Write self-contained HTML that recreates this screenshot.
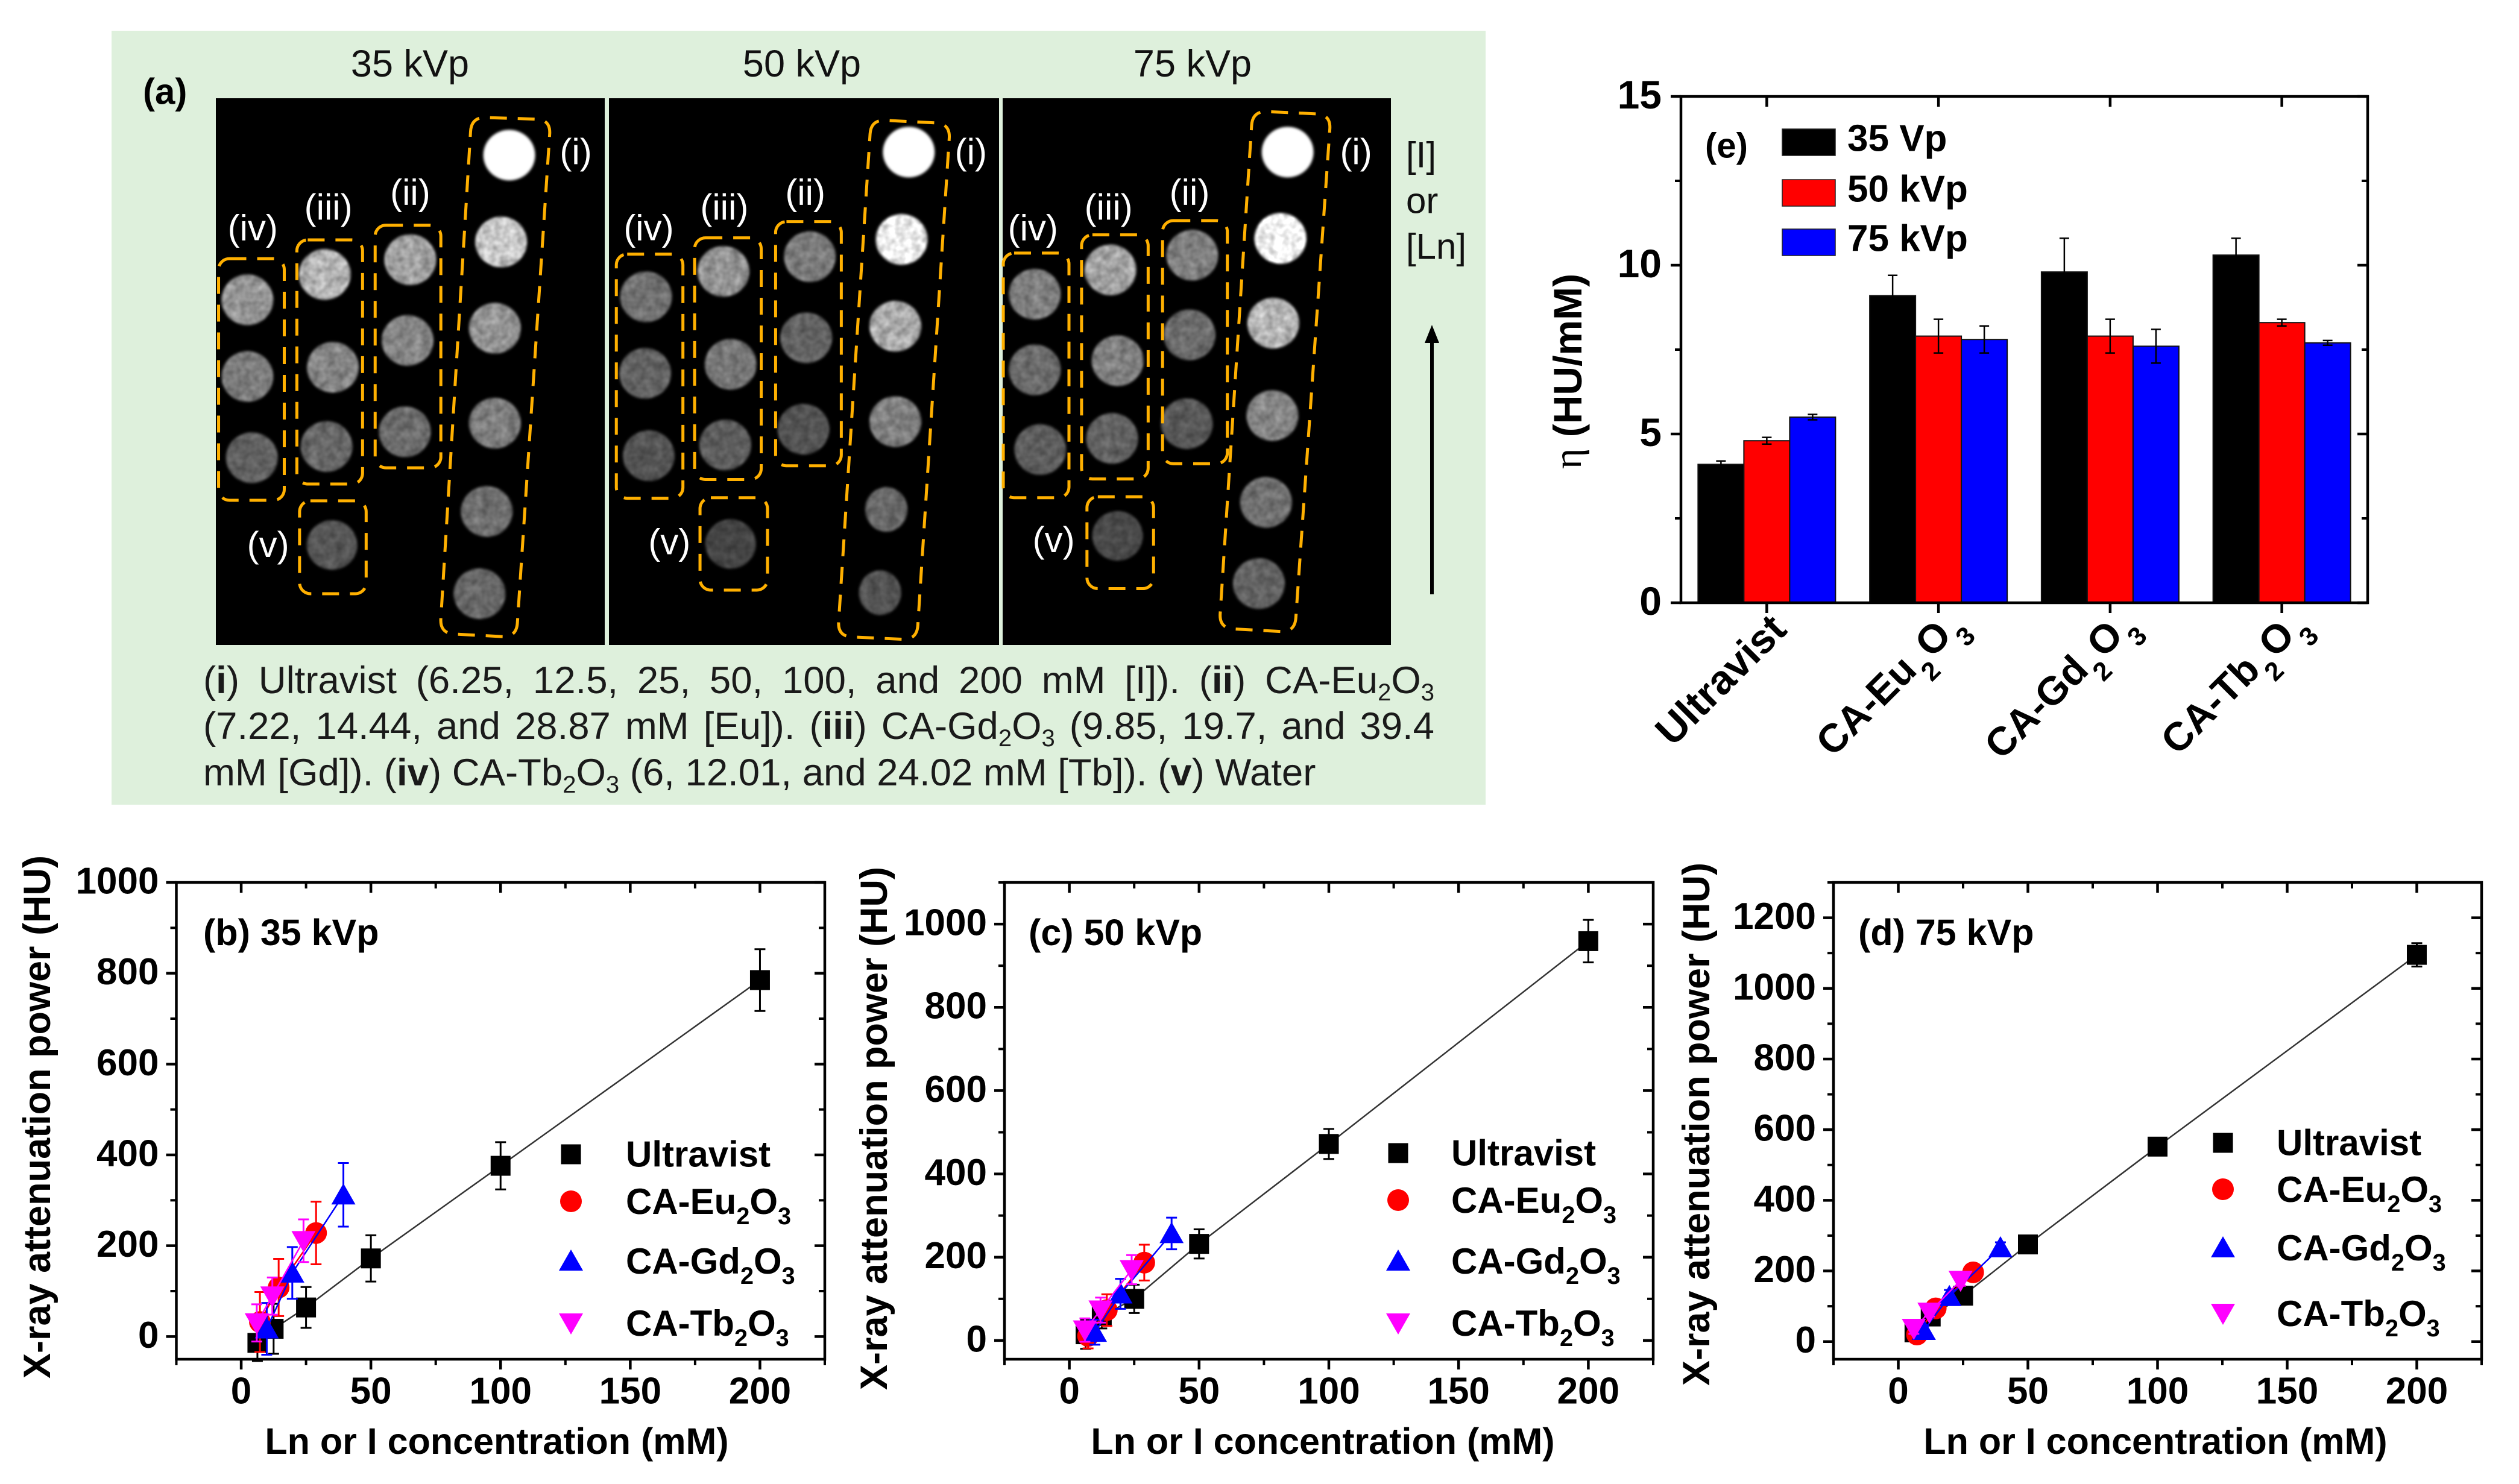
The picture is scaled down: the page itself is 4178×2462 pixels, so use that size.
<!DOCTYPE html>
<html lang="en">
<head>
<meta charset="utf-8">
<title>X-ray attenuation figure</title>
<style>
html,body{margin:0;padding:0;background:#fff;}
#figure{position:absolute;left:0;top:0;width:4178px;height:2462px;overflow:hidden;font-family:"Liberation Sans",sans-serif;}
svg{position:absolute;left:0;top:0;}
.caption{position:absolute;left:337px;width:2042px;font-size:63.5px;line-height:76px;color:#1a1a1a;white-space:nowrap;text-align:justify;text-align-last:justify;}
.caption.last{text-align-last:left;}
.caption sub{font-size:40px;line-height:0;vertical-align:-12px;}
</style>
</head>
<body>
<div id="figure">
<svg id="canvas" width="4178" height="2462" viewBox="0 0 4178 2462" xmlns="http://www.w3.org/2000/svg">
<defs>
<filter id="tex" filterUnits="userSpaceOnUse" x="340" y="150" width="2000" height="940" color-interpolation-filters="sRGB">
<feGaussianBlur in="SourceGraphic" stdDeviation="2" result="soft"/>
<feTurbulence type="fractalNoise" baseFrequency="0.07" numOctaves="2" seed="4" result="n"/>
<feColorMatrix in="n" type="matrix" values="1 0 0 0 0 1 0 0 0 0 1 0 0 0 0 0 0 0 0 1" result="g"/>
<feComposite in="soft" in2="g" operator="arithmetic" k1="0.6" k2="0.68" k3="0" k4="0"/>
</filter>
<filter id="soft" color-interpolation-filters="sRGB"><feGaussianBlur stdDeviation="2"/></filter>
</defs>
<rect x="185" y="51" width="2279" height="1284" fill="#def0dc"/>
<g id="panelA"></g>
<g id="panelB"></g>
<g id="panelC"></g>
<g id="panelD"></g>
<g id="panelE"></g>
</svg>
<div class="caption" style="top:1091px">(<b>i</b>) Ultravist (6.25, 12.5, 25, 50, 100, and 200 mM [I]). (<b>ii</b>) CA-Eu<sub>2</sub>O<sub>3</sub></div>
<div class="caption" style="top:1167px">(7.22, 14.44, and 28.87 mM [Eu]). (<b>iii</b>) CA-Gd<sub>2</sub>O<sub>3</sub> (9.85, 19.7, and 39.4</div>
<div class="caption last" style="top:1244px">mM [Gd]). (<b>iv</b>) CA-Tb<sub>2</sub>O<sub>3</sub> (6, 12.01, and 24.02 mM [Tb]). (<b>v</b>) Water</div>
</div>
<script>
// ---------- chart data ----------
const ultravistConc = [6.25, 12.5, 25, 50, 100, 200];
const euConc = [7.22, 14.44, 28.87];
const gdConc = [9.85, 19.7, 39.4];
const tbConc = [6, 12.01, 24.02];

const ultravist35 = [-14, 17, 64, 172, 376, 785];
const ultravist35Err = [40, 55, 45, 51, 52, 68];
const eu35 = [32, 108, 228];
const eu35Err = [66, 63, 69];
const gd35 = [17, 140, 312];
const gd35Err = [57, 57, 70];
const tb35 = [30, 89, 211];
const tb35Err = [41, 41, 47];

const ultravist50 = [15, 59, 100, 232, 472, 959];
const ultravist50Err = [35, 30, 34, 35, 36, 51];
const eu50 = [11, 73, 187];
const eu50Err = [30, 38, 43];
const gd50 = [20, 112, 257];
const gd50Err = [30, 36, 38];
const tb50 = [25, 73, 170];
const tb50Err = [28, 30, 35];

const ultravist75 = [26, 71, 130, 275, 552, 1095];
const ultravist75Err = [8, 10, 12, 15, 20, 33];
const eu75 = [20, 94, 196];
const eu75Err = [10, 15, 12];
const gd75 = [32, 128, 266];
const gd75Err = [12, 18, 15];
const tb75 = [37, 83, 173];
const tb75Err = [15, 12, 15];

const xMajorTicks = [0, 50, 100, 150, 200];
const xMinorTicks = [-25, 25, 75, 125, 175, 225];
const yMajorB = [0, 200, 400, 600, 800, 1000];
const yMinorB = [100, 300, 500, 700, 900];
const yMajorC = [0, 200, 400, 600, 800, 1000];
const yMinorC = [100, 300, 500, 700, 900, 1100];
const yMajorD = [0, 200, 400, 600, 800, 1000, 1200];
const yMinorD = [100, 300, 500, 700, 900, 1100, 1300];

const barCategories = ["Ultravist", "CA-Eu", "CA-Gd", "CA-Tb"];
const eta35 = [4.1, 9.1, 9.8, 10.3];
const eta35Err = [0.1, 0.6, 1.0, 0.5];
const eta50 = [4.8, 7.9, 7.9, 8.3];
const eta50Err = [0.1, 0.5, 0.5, 0.1];
const eta75 = [5.5, 7.8, 7.6, 7.7];
const eta75Err = [0.08, 0.4, 0.5, 0.07];
const etaMajorTicks = [0, 5, 10, 15];
const etaMinorTicks = [2.5, 7.5, 12.5];
const barLegendLabels = ["35 Vp", "50 kVp", "75 kVp"];

// ---------- helpers ----------
const NS = "http://www.w3.org/2000/svg";
function mk(tag, attrs, parent) {
  const el = document.createElementNS(NS, tag);
  for (const k in attrs) el.setAttribute(k, attrs[k]);
  parent.appendChild(el);
  return el;
}
function lin(d0, d1, r0, r1) {
  return v => r0 + (v - d0) * (r1 - r0) / (d1 - d0);
}
function chemText(el, name, size, gap) {
  const drop = size * 0.42;
  const sub = size * 0.66;
  mk("tspan", {}, el).textContent = name;
  const a = mk("tspan", { dy: drop, dx: gap, "font-size": sub }, el);
  a.textContent = "2";
  const b = mk("tspan", { dy: -drop, dx: gap }, el);
  b.textContent = "O";
  const c = mk("tspan", { dy: drop, dx: gap, "font-size": sub }, el);
  c.textContent = "3";
}
const BOLD = { "font-family": '"Liberation Sans",sans-serif', "font-weight": "bold", fill: "#000" };
function boldText(parent, x, y, size, anchor, str) {
  const t = mk("text", Object.assign({ x: x, y: y, "font-size": size, "text-anchor": anchor, "dominant-baseline": "central" }, BOLD), parent);
  t.textContent = str;
  return t;
}
function seg(parent, x1, y1, x2, y2, color, w) {
  return mk("line", { x1: x1, y1: y1, x2: x2, y2: y2, stroke: color, "stroke-width": w }, parent);
}

function marker(parent, shape, x, y, color) {
  let m;
  if (shape === "square") {
    m = mk("rect", { x: x - 16.5, y: y - 16.5, width: 33, height: 33, fill: color }, parent);
  } else if (shape === "circle") {
    m = mk("circle", { cx: x, cy: y, r: 18, fill: color }, parent);
  } else if (shape === "up") {
    m = mk("polygon", { points: (x - 20) + "," + (y + 16) + " " + (x + 20) + "," + (y + 16) + " " + x + "," + (y - 19), fill: color }, parent);
  } else {
    m = mk("polygon", { points: (x - 20) + "," + (y - 16) + " " + (x + 20) + "," + (y - 16) + " " + x + "," + (y + 19), fill: color }, parent);
  }
  return m;
}

function drawFrame(g, f, sx, sy, xMajor, xMinor, yMajor, yMinor) {
  const frame = mk("rect", { x: f.left, y: f.top, width: f.right - f.left, height: f.bottom - f.top, fill: "none", stroke: "#000", "stroke-width": 4.5 }, g);
  
  
  yMajor.forEach(v => {
    const t1 = seg(g, f.left - 17, sy(v), f.left, sy(v), "#000", 4.5);
    
    
    const t2 = seg(g, f.right - 17, sy(v), f.right, sy(v), "#000", 4.5);
    
    
  });
  yMinor.forEach(v => {
    const t1 = seg(g, f.left - 10, sy(v), f.left, sy(v), "#000", 4);
    
    
    const t2 = seg(g, f.right - 10, sy(v), f.right, sy(v), "#000", 4);
    
    
  });
  xMajor.forEach(v => {
    const t1 = seg(g, sx(v), f.bottom, sx(v), f.bottom + 17, "#000", 4.5);
    
    
    const t2 = seg(g, sx(v), f.top, sx(v), f.top + 17, "#000", 4.5);
    
    
  });
  xMinor.forEach(v => {
    const t1 = seg(g, sx(v), f.bottom, sx(v), f.bottom + 10, "#000", 4);
    
    
    const t2 = seg(g, sx(v), f.top, sx(v), f.top + 10, "#000", 4);
    
    
  });
}

// ---------- scatter panels ----------
function drawScatter(opts) {
  const g = document.getElementById(opts.id);
  const f = opts.frame;
  const sx = lin(-25, 225, f.left, f.right);
  const sy = lin(opts.yMin, opts.yMax, f.bottom, f.top);
  drawFrame(g, f, sx, sy, xMajorTicks, xMinorTicks, opts.yMajor, opts.yMinor);

  opts.series.forEach(s => {
    const sg = mk("g", {}, g);
    
    
    const pts = s.x.map((v, i) => sx(v) + "," + sy(s.y[i])).join(" ");
    const line = mk("polyline", { points: pts, fill: "none", stroke: s.line, "stroke-width": 2.5 }, sg);
    
    
    s.x.forEach((v, i) => {
      const px = sx(v);
      const hi = sy(s.y[i] + s.err[i]);
      const lo = sy(s.y[i] - s.err[i]);
      const eb = mk("path", { d: "M" + (px - 9) + " " + hi + "H" + (px + 9) + "M" + px + " " + hi + "V" + lo + "M" + (px - 9) + " " + lo + "H" + (px + 9), fill: "none", stroke: s.color, "stroke-width": 3 }, sg);
      
      
      const m = marker(sg, s.shape, px, sy(s.y[i]), s.color);
      
      
    });
  });

  opts.yMajor.forEach(v => {
    const t = boldText(g, f.left - 29, sy(v) - 2, 62, "end", String(v));
    
    
  });
  xMajorTicks.forEach(v => {
    const t = boldText(g, sx(v), f.bottom + 53, 62, "middle", String(v));
    
    
  });
  const xt = boldText(g, opts.xTitleX, f.bottom + 136, 61, "middle", "Ln or I concentration (mM)");
  
  
  const yt = boldText(g, 0, 0, 63, "middle", "X-ray attenuation power (HU)");
  yt.setAttribute("transform", "translate(" + opts.yTitleX + " " + opts.yTitleY + ") rotate(-90)");
  
  
  const pl = boldText(g, opts.labelX, f.top + 83, 61, "start", opts.label);
  
  

  opts.series.forEach((s, i) => {
    const ly = opts.legendY[i];
    const lm = marker(g, s.shape, opts.legendMarkerX, ly, s.color);
    
    
    const lt = boldText(g, opts.legendTextX, ly, 60, "start", "");
    if (s.key === "ultravist") { lt.textContent = "Ultravist"; }
    else { chemText(lt, s.name, 60, 0); }
    
    
  });
}

function seriesSet(uy, ue, ey, ee, gy, ge, ty, te) {
  return [
    { key: "ultravist", name: "Ultravist", x: ultravistConc, y: uy, err: ue, color: "#000", line: "#333", shape: "square" },
    { key: "eu", name: "CA-Eu", x: euConc, y: ey, err: ee, color: "#ff0000", line: "#ff0000", shape: "circle" },
    { key: "gd", name: "CA-Gd", x: gdConc, y: gy, err: ge, color: "#0000ff", line: "#0000ff", shape: "up" },
    { key: "tb", name: "CA-Tb", x: tbConc, y: ty, err: te, color: "#ff00ff", line: "#ff00ff", shape: "down" }
  ];
}

drawScatter({
  id: "panelB", frame: { left: 292.5, right: 1368, top: 1464, bottom: 2255 },
  yMin: -50, yMax: 1000, yMajor: yMajorB, yMinor: yMinorB,
  series: seriesSet(ultravist35, ultravist35Err, eu35, eu35Err, gd35, gd35Err, tb35, tb35Err),
  xTitleX: 824, yTitleX: 62, yTitleY: 1853, label: "(b) 35 kVp", labelX: 337,
  legendMarkerX: 947, legendTextX: 1038, legendY: [1915, 1993, 2092, 2195]
});
drawScatter({
  id: "panelC", frame: { left: 1666, right: 2742, top: 1464, bottom: 2255 },
  yMin: -45, yMax: 1100, yMajor: yMajorC, yMinor: yMinorC,
  series: seriesSet(ultravist50, ultravist50Err, eu50, eu50Err, gd50, gd50Err, tb50, tb50Err),
  xTitleX: 2194, yTitleX: 1450, yTitleY: 1872, label: "(c) 50 kVp", labelX: 1706,
  legendMarkerX: 2319, legendTextX: 2407, legendY: [1913, 1991, 2092, 2195]
});
drawScatter({
  id: "panelD", frame: { left: 3041, right: 4116, top: 1464, bottom: 2255 },
  yMin: -50, yMax: 1300, yMajor: yMajorD, yMinor: yMinorD,
  series: seriesSet(ultravist75, ultravist75Err, eu75, eu75Err, gd75, gd75Err, tb75, tb75Err),
  xTitleX: 3575, yTitleX: 2814, yTitleY: 1865, label: "(d) 75 kVp", labelX: 3082,
  legendMarkerX: 3687, legendTextX: 3776, legendY: [1896, 1973, 2070, 2179]
});

// ---------- bar panel ----------
(function () {
  const g = document.getElementById("panelE");
  const f = { left: 2788, right: 3927, top: 160, bottom: 1000 };
  const sx = lin(0.5, 4.5, f.left, f.right);
  const sy = lin(0, 15, f.bottom, f.top);
  const barW = 76;
  const sets = [
    { key: "35", vals: eta35, errs: eta35Err, color: "#000", off: -1 },
    { key: "50", vals: eta50, errs: eta50Err, color: "#ff0000", off: 0 },
    { key: "75", vals: eta75, errs: eta75Err, color: "#0000ff", off: 1 }
  ];
  sets.forEach(s => {
    s.vals.forEach((v, i) => {
      const cx = sx(i + 1) + s.off * barW;
      const b = mk("rect", { x: cx - barW / 2, y: sy(v), width: barW, height: sy(0) - sy(v), fill: s.color, stroke: "#111", "stroke-width": 2 }, g);
      
      
      const hi = sy(v + s.errs[i]);
      const lo = sy(v - s.errs[i]);
      const eb = mk("path", { d: "M" + (cx - 8) + " " + hi + "H" + (cx + 8) + "M" + cx + " " + hi + "V" + lo + "M" + (cx - 8) + " " + lo + "H" + (cx + 8), fill: "none", stroke: "#000", "stroke-width": 2.5 }, g);
      
      
    });
  });
  drawFrame(g, f, sx, sy, [1, 2, 3, 4], [], etaMajorTicks, etaMinorTicks);

  etaMajorTicks.forEach(v => {
    const t = boldText(g, f.left - 32, sy(v) - 3, 66, "end", String(v));
    
    
  });
  barCategories.forEach((c, i) => {
    const t = mk("text", Object.assign({ "font-size": i === 0 ? 68 : 66, "text-anchor": "end", transform: "translate(" + (sx(i + 1) + (i === 0 ? 36 : 44)) + " " + (f.bottom + (i === 0 ? 48 : 38)) + ") rotate(-45)" }, BOLD), g);
    if (i === 0) { t.textContent = c; }
    else { chemText(t, c, 66, 3); }
    
    
  });

  const yt = mk("text", { transform: "translate(2600 616) rotate(-90)", "text-anchor": "middle", "dominant-baseline": "central", "font-size": 66, fill: "#000", "font-family": '"Liberation Sans",sans-serif', "font-weight": "bold" }, g);
  const eta = mk("tspan", { "font-family": '"Liberation Serif",serif', "font-weight": "normal" }, yt);
  eta.textContent = "η";
  mk("tspan", {}, yt).textContent = " (HU/mM)";
  
  

  const pl = boldText(g, 2828, 242, 58, "start", "(e)");
  
  

  const swatchColors = ["#000", "#ff0000", "#0000ff"];
  const swatchTop = [214, 298, 380];
  barLegendLabels.forEach((lab, i) => {
    const sw = mk("rect", { x: 2956, y: swatchTop[i], width: 88, height: 44, fill: swatchColors[i], stroke: "#222", "stroke-width": 1.5 }, g);
    
    
    const t = boldText(g, 3064, swatchTop[i] + 16, 62, "start", lab);
    
    
  });
})();

// ---------- panel a: phantom images ----------
(function () {
  const g = document.getElementById("panelA");
  const zx = x => x / 0.67 + 170;
  const zy = y => y / 1.1875 + 30;
  const images = [
    { x0: 358, x1: 1003,
      i: [[452,270],[443,441],[436,611],[436,798],[427,972],[419,1134]],
      ii: [[342,476],[339,635],[336,815]], iii: [[247,505],[256,688],[249,844]], iv: [[161,555],[161,706],[166,866]], v: [[255,1038]],
      gi: [255,205,150,128,112,105], gii: [165,135,110], giii: [185,135,105], giv: [150,125,100], gv: 88,
      boxI: [[410,195],[498,200],[460,1220],[375,1212]],
      boxes: [[303,376,408,886],[216,289,437,918],[129,202,474,950],[219,293,951,1134]],
      labels: [["(i)",526,263],["(ii)",342,343],["(iii)",251,372],["(iv)",167,413],["(v)",184,1037]], small: false },
    { x0: 1010, x1: 1657,
      i: [[896,264],[888,436],[881,607],[881,795],[871,968],[864,1132]],
      ii: [[786,470],[782,630],[779,810]], iii: [[690,499],[698,682],[692,841]], iv: [[604,549],[603,700],[607,862]], v: [[698,1036]],
      gi: [255,240,175,130,105,85], gii: [125,100,85], giii: [150,120,95], giv: [115,100,85], gv: 70,
      boxI: [[854,200],[942,208],[905,1225],[817,1218]],
      boxes: [[748,821,401,882],[658,732,433,909],[571,645,465,946],[664,739,945,1127]],
      labels: [["(i)",965,263],["(ii)",781,343],["(iii)",691,372],["(iv)",607,413],["(v)",630,1032]], small: true },
    { x0: 1663, x1: 2307,
      i: [[1317,264],[1309,434],[1301,601],[1300,783],[1293,954],[1285,1114]],
      ii: [[1211,467],[1208,624],[1205,799]], iii: [[1120,496],[1128,675],[1122,828]], iv: [[1036,544],[1036,693],[1042,850]], v: [[1128,1020]],
      gi: [255,250,185,135,115,100], gii: [130,110,90], giii: [165,130,100], giv: [130,110,95], gv: 75,
      boxI: [[1278,183],[1365,190],[1325,1210],[1241,1202]],
      boxes: [[1178,1250,399,878],[1088,1162,427,908],[1001,1074,463,945],[1094,1168,943,1124]],
      labels: [["(i)",1393,263],["(ii)",1208,343],["(iii)",1118,372],["(iv)",1034,413],["(v)",1057,1028]], small: false }
  ];
  const roundPoly = (p, r) => {
    let d = "";
    const n = p.length;
    for (let k = 0; k < n; k++) {
      const a = p[(k + n - 1) % n], b = p[k], c = p[(k + 1) % n];
      const la = Math.hypot(a[0]-b[0], a[1]-b[1]), lc = Math.hypot(c[0]-b[0], c[1]-b[1]);
      const s = [b[0] + (a[0]-b[0]) * r / la, b[1] + (a[1]-b[1]) * r / la];
      const e = [b[0] + (c[0]-b[0]) * r / lc, b[1] + (c[1]-b[1]) * r / lc];
      d += (k ? "L" : "M") + s[0] + " " + s[1] + "Q" + b[0] + " " + b[1] + " " + e[0] + " " + e[1];
    }
    return d + "Z";
  };
  images.forEach((im, idx) => {
    const r = mk("rect", { x: im.x0, y: 163, width: im.x1 - im.x0, height: 907, fill: "#000" }, g);
    
    
    const cg = mk("g", { filter: "url(#tex)" }, g);
    
    
    const well = (p, gray, rx, ry) => {
      const host = gray >= 255 ? g : cg;
      const e = mk("ellipse", { cx: zx(p[0]), cy: zy(p[1]), rx: rx, ry: ry, fill: "rgb(" + gray + "," + gray + "," + gray + ")" }, host);
      if (gray >= 255) e.setAttribute("filter", "url(#soft)");
      
      
    };
    im.i.forEach((p, k) => {
      const sm = im.small && k >= 4;
      well(p, im.gi[k], sm ? 35 : 43, sm ? 37 : 42);
    });
    im.ii.forEach((p, k) => well(p, im.gii[k], 43, 42));
    im.iii.forEach((p, k) => well(p, im.giii[k], 43, 42));
    im.iv.forEach((p, k) => well(p, im.giv[k], 43, 42));
    im.v.forEach(p => well(p, im.gv, 42, 41));

    const dash = { fill: "none", stroke: "#ffb000", "stroke-width": 5, "stroke-dasharray": "28 18" };
    const bi = mk("path", Object.assign({ d: roundPoly(im.boxI.map(p => [zx(p[0]), zy(p[1])]), 24) }, dash), g);
    
    
    im.boxes.forEach(b => {
      const bx = mk("rect", Object.assign({ x: zx(b[0]), y: zy(b[2]), width: zx(b[1]) - zx(b[0]), height: zy(b[3]) - zy(b[2]), rx: 18, ry: 18 }, dash), g);
      
      
    });
    im.labels.forEach(l => {
      const t = mk("text", { x: zx(l[1]), y: zy(l[2]), "font-size": 60, "text-anchor": "middle", "dominant-baseline": "central", fill: "#fff", "font-family": '"Liberation Sans",sans-serif' }, g);
      t.textContent = l[0];
      
      
    });
  });
  const heads = [["35 kVp", 680], ["50 kVp", 1330], ["75 kVp", 1978]];
  heads.forEach(h => {
    const t = mk("text", { x: h[1], y: 106, "font-size": 63, "text-anchor": "middle", "dominant-baseline": "central", fill: "#111", "font-family": '"Liberation Sans",sans-serif' }, g);
    t.textContent = h[0];
    
    
  });
  const a = boldText(g, 237, 152, 60, "start", "(a)");
  
  
  [["[I]", 257], ["or", 333], ["[Ln]", 409]].forEach(o => {
    const t = mk("text", { x: 2332, y: o[1], "font-size": 60, "dominant-baseline": "central", fill: "#111", "font-family": '"Liberation Sans",sans-serif' }, g);
    t.textContent = o[0];
    
    
  });
  const shaft = seg(g, 2375, 986, 2375, 560, "#000", 6);
  
  
  const head = mk("polygon", { points: "2375,539 2363,569 2387,569", fill: "#000" }, g);
  
  
})();
</script>
</body>
</html>
